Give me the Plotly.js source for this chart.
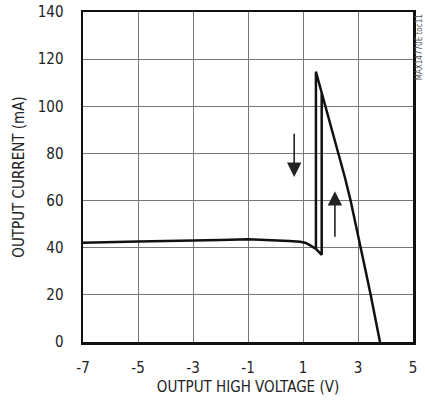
<!DOCTYPE html>
<html>
<head>
<meta charset="utf-8">
<script src="https://cdn.plot.ly/plotly-3.0.1.min.js"></script>
<style>html,body{margin:0;padding:0;background:#fff;}#chart{width:425px;height:404px;}</style>
</head>
<body>
<div id="chart"></div>
<script>
// Flat branch into the left edge of the hysteresis loop
const flatX = [-7, -6, -5, -4, -3, -2, -1, 0, 0.5, 0.9, 1.1, 1.25, 1.47];
const flatY = [42.1, 42.2, 42.6, 42.9, 43.0, 43.3, 43.6, 43.2, 42.9, 42.5, 42.0, 41.1, 39.5];
// Left vertical edge and falling branch
const fallX = [1.47, 1.47, 1.58, 1.82, 2.06, 2.30, 2.52, 2.73, 2.92, 3.10, 3.28, 3.46, 3.63, 3.80];
const fallY = [39.5, 114.7, 110, 100, 90, 80, 70, 60, 50, 40, 30, 20, 10, 0];
// Right vertical edge of the loop
const loopX = [1.47, 1.68, 1.68];
const loopY = [39.5, 37.0, 105.5];

const xTicks = [-7, -5, -3, -1, 1, 3, 5];
const yTicks = [0, 20, 40, 60, 80, 100, 120, 140];

// Arrows: [tailX, tailY, tipX, tipY]
const arrowDown = [0.68, 89, 0.68, 70];
const arrowUp = [2.16, 44, 2.16, 64];

const FONT = 'Liberation Sans Narrow, DejaVu Sans Condensed, Arial Narrow, sans-serif';
const lineStyle = {color: '#111', width: 2.5};

const traces = [
  {x: flatX, y: flatY, mode: 'lines', line: lineStyle, hoverinfo: 'skip'},
  {x: fallX, y: fallY, mode: 'lines', line: lineStyle, hoverinfo: 'skip'},
  {x: loopX, y: loopY, mode: 'lines', line: lineStyle, hoverinfo: 'skip'}
];

function arrow(a) {
  return {x: a[2], y: a[3], ax: a[0], ay: a[1], xref: 'x', yref: 'y', axref: 'x', ayref: 'y',
          text: '', showarrow: true, arrowhead: 2, arrowsize: 1.8, arrowwidth: 1.6, arrowcolor: '#222', standoff: 0};
}

const layout = {
  width: 425, height: 404,
  margin: {l: 83, r: 12, t: 12, b: 62},
  paper_bgcolor: '#fff', plot_bgcolor: '#fff',
  showlegend: false,
  font: {family: FONT, size: 14, color: '#222'},
  xaxis: {
    range: [-7, 5], tickvals: xTicks, ticktext: xTicks.map(String),
    showgrid: true, gridcolor: '#777', gridwidth: 1,
    showline: true, linecolor: '#111', linewidth: 2.5, mirror: true,
    zeroline: false, ticks: '', ticklabelstandoff: 10,
    tickfont: {family: FONT, size: 15, color: '#222'},
    title: {text: 'OUTPUT HIGH VOLTAGE (V)', font: {family: FONT, size: 15, color: '#222'}, standoff: 6}
  },
  yaxis: {
    range: [0, 140], tickvals: yTicks, ticktext: yTicks.map(String),
    showgrid: true, gridcolor: '#777', gridwidth: 1,
    showline: true, linecolor: '#111', linewidth: 2.5, mirror: true,
    zeroline: false, ticks: '', ticklabelstandoff: 14,
    tickfont: {family: FONT, size: 15, color: '#222'},
    title: {text: 'OUTPUT CURRENT (mA)', font: {family: FONT, size: 15, color: '#222'}, standoff: 10}
  },
  annotations: [
    arrow(arrowDown), arrow(arrowUp),
    {text: 'MAX14770E toc11', xref: 'paper', yref: 'paper', x: 1.019, y: 1.0, xanchor: 'center', yanchor: 'top',
     textangle: -90, showarrow: false, font: {family: FONT, size: 8, color: '#555'}}
  ]
};

Plotly.newPlot('chart', traces, layout, {staticPlot: true, displayModeBar: false});
</script>
</body>
</html>
